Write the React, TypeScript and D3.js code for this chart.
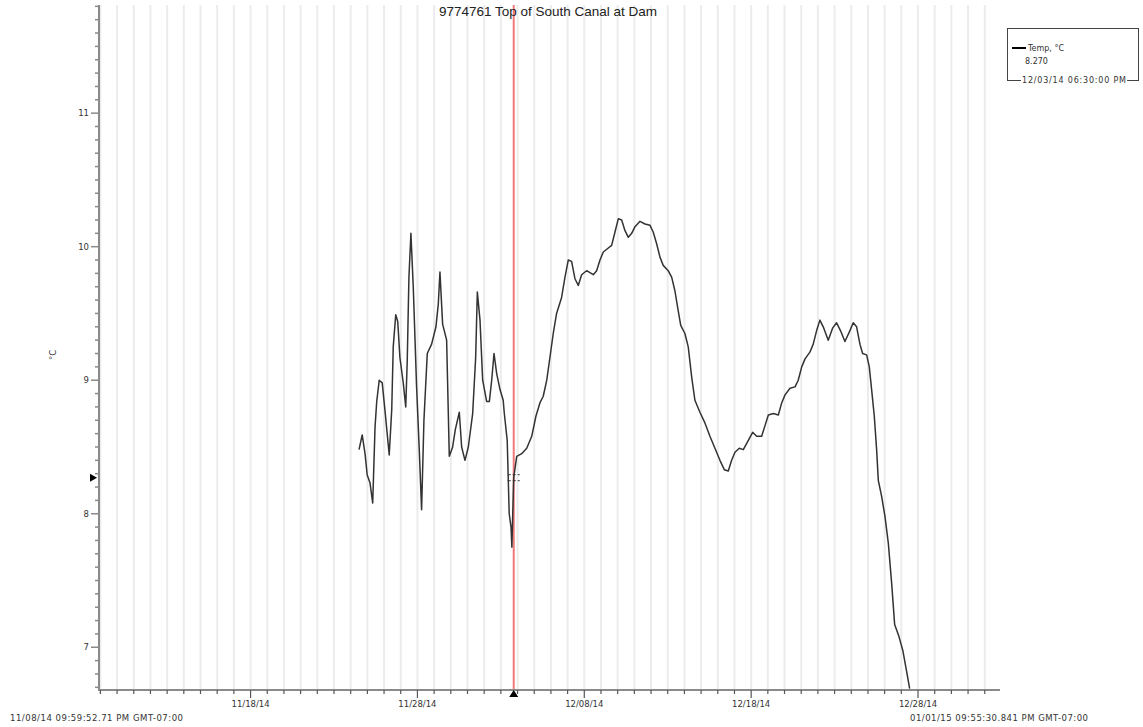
import React, { useEffect, useRef } from 'react';
import * as d3 from 'd3';

const TITLE = '9774761 Top of South Canal at Dam';
const SERIES_NAME = 'Temp, °C';
const Y_TITLE = '°C';
const START_LABEL = '11/08/14 09:59:52.71 PM GMT-07:00';
const END_LABEL = '01/01/15 09:55:30.841 PM GMT-07:00';
const CURSOR_LABEL = '12/03/14 06:30:00 PM';
const CURSOR_VALUE = 8.27;
const CURSOR_TIME = Date.UTC(2014, 11, 3, 18, 30);

const X_START = Date.UTC(2014, 10, 8, 21, 59, 52, 710);
const X_END = Date.UTC(2015, 0, 1, 21, 55, 30, 841);
const BASE_DAY = Date.UTC(2014, 10, 18);
const Y_MIN = 6.68;
const Y_MAX = 11.81;
const Y_LABELS = [7, 8, 9, 10, 11];
const MAJOR_TICKS = ['2014-11-18', '2014-11-28', '2014-12-08', '2014-12-18', '2014-12-28'];

// days since 11/18/14
const dayOffsets = [
  6.5, 6.69, 6.86, 6.99, 7.16, 7.32, 7.46, 7.56, 7.71, 7.89, 8.05, 8.31, 8.46, 8.55, 8.7, 8.82,
  8.95, 9.15, 9.3, 9.39, 9.49, 9.61, 9.75, 9.95, 10.11, 10.25, 10.39, 10.59, 10.85, 11.11, 11.25,
  11.35, 11.51, 11.75, 11.91, 12.11, 12.27, 12.51, 12.65, 12.85, 13.05, 13.31, 13.49, 13.59, 13.75,
  13.91, 14.15, 14.31, 14.45, 14.59, 14.75, 14.95, 15.14, 15.2, 15.38, 15.5, 15.61, 15.66, 15.77,
  15.95, 16.25, 16.55, 16.85, 17.1, 17.34, 17.54, 17.75, 17.94, 18.14, 18.34, 18.64, 18.84, 19.04,
  19.24, 19.44, 19.64, 19.84, 20.14, 20.54, 20.74, 20.94, 21.14, 21.44, 21.64, 21.84, 22.04, 22.24,
  22.44, 22.64, 22.84, 23.04, 23.34, 23.64, 23.94, 24.13, 24.34, 24.54, 24.73, 25.03, 25.24, 25.43,
  25.63, 25.78, 26.03, 26.23, 26.44, 26.63, 26.93, 27.23, 27.53, 27.83, 28.13, 28.39, 28.63, 28.83,
  29.03, 29.29, 29.53, 29.83, 30.09, 30.33, 30.63, 30.83, 31.03, 31.33, 31.63, 31.83, 32.03, 32.33,
  32.63, 32.82, 33.03, 33.23, 33.52, 33.72, 33.92, 34.12, 34.32, 34.62, 34.88, 35.12, 35.36, 35.62,
  35.88, 36.12, 36.32, 36.52, 36.68, 36.92, 37.08, 37.22, 37.38, 37.52, 37.62, 37.82, 38.02, 38.22,
  38.42, 38.6, 38.86, 39.1, 39.3, 39.5,
];

const temps = [
  8.48, 8.59, 8.45, 8.29, 8.23, 8.08, 8.65, 8.84, 9.0, 8.98, 8.78, 8.44, 8.78, 9.25, 9.49, 9.44,
  9.17, 8.98, 8.8, 9.15, 9.77, 10.1, 9.7, 8.95, 8.48, 8.03, 8.7, 9.2, 9.27, 9.4, 9.57,
  9.81, 9.42, 9.3, 8.43, 8.5, 8.63, 8.76, 8.5, 8.4, 8.5, 8.75, 9.17, 9.66, 9.45,
  9.0, 8.84, 8.84, 9.0, 9.2, 9.05, 8.93, 8.85, 8.76, 8.55, 8.0, 7.9, 7.75, 8.27,
  8.43, 8.45, 8.49, 8.58, 8.73, 8.83, 8.88, 9.0, 9.17, 9.35, 9.5, 9.62, 9.77, 9.9,
  9.89, 9.76, 9.71, 9.79, 9.82, 9.79, 9.82, 9.9, 9.96, 9.99, 10.01, 10.11, 10.21, 10.2,
  10.12, 10.07, 10.1, 10.15, 10.19, 10.17, 10.16, 10.11, 10.02, 9.92, 9.86, 9.82, 9.77, 9.67,
  9.52, 9.41, 9.35, 9.25, 9.02, 8.85, 8.76, 8.68, 8.58, 8.49, 8.4, 8.33, 8.32, 8.4,
  8.46, 8.49, 8.48, 8.55, 8.61, 8.58, 8.58, 8.66, 8.74, 8.75, 8.74, 8.83, 8.89, 8.94,
  8.95, 9.0, 9.1, 9.16, 9.21, 9.27, 9.37, 9.45, 9.4, 9.3, 9.39, 9.43, 9.37, 9.29,
  9.36, 9.43, 9.4, 9.27, 9.2, 9.19, 9.1, 8.93, 8.73, 8.48, 8.25, 8.13, 7.98, 7.78,
  7.48, 7.17, 7.08, 6.97, 6.83, 6.69,
];

const W = 1143;
const H = 727;
const PLOT = { left: 99, right: 1000, top: 5, bottom: 690 };
const FONT = 'Liberation Sans, Arial, sans-serif';
const SMALL_FONT = 'DejaVu Sans, Verdana, sans-serif';
const AXIS_COLOR = '#8a8a8a';

export default function App() {
  const svgRef = useRef<SVGSVGElement | null>(null);

  useEffect(() => {
    const svg = d3.select(svgRef.current);
    svg.selectAll('*').remove();

    const x = d3.scaleUtc().domain([X_START, X_END]).range([PLOT.left, PLOT.right]);
    const y = d3.scaleLinear().domain([Y_MIN, Y_MAX]).range([PLOT.bottom, PLOT.top]);

    const days = d3.utcDay.range(new Date(X_START), new Date(X_END));
    const majors = MAJOR_TICKS.map((d) => +new Date(d + 'T00:00:00Z'));

    // daily grid
    svg.append('g')
      .selectAll('line')
      .data(days)
      .enter()
      .append('line')
      .attr('x1', (d) => x(d))
      .attr('x2', (d) => x(d))
      .attr('y1', PLOT.top)
      .attr('y2', PLOT.bottom)
      .attr('stroke', '#ececec')
      .attr('stroke-width', 2);

    // cursor line
    svg.append('line')
      .attr('x1', x(CURSOR_TIME))
      .attr('x2', x(CURSOR_TIME))
      .attr('y1', PLOT.top)
      .attr('y2', PLOT.bottom)
      .attr('stroke', '#f07a7a')
      .attr('stroke-width', 2);

    svg.append('defs')
      .append('clipPath')
      .attr('id', 'plot-clip')
      .append('rect')
      .attr('x', PLOT.left)
      .attr('y', PLOT.top)
      .attr('width', PLOT.right - PLOT.left)
      .attr('height', PLOT.bottom - PLOT.top);

    const points = dayOffsets.map((d, i) => [BASE_DAY + d * 86400000, temps[i]] as [number, number]);
    const line = d3.line<[number, number]>()
      .x((d) => x(d[0]))
      .y((d) => y(d[1]));

    svg.append('path')
      .datum(points)
      .attr('clip-path', 'url(#plot-clip)')
      .attr('d', line)
      .attr('fill', 'none')
      .attr('stroke', '#333')
      .attr('stroke-width', 1.5)
      .attr('stroke-linejoin', 'round');

    // cursor marker at value
    const cx = x(CURSOR_TIME);
    const cy = y(CURSOR_VALUE);
    [-3, 3].forEach((off) => {
      svg.append('line')
        .attr('x1', cx - 6)
        .attr('x2', cx + 6)
        .attr('y1', cy + off)
        .attr('y2', cy + off)
        .attr('stroke', '#333')
        .attr('stroke-width', 1)
        .attr('stroke-dasharray', '3,2');
    });

    // y axis
    svg.append('line')
      .attr('x1', PLOT.left)
      .attr('x2', PLOT.left)
      .attr('y1', PLOT.top)
      .attr('y2', PLOT.bottom + 1)
      .attr('stroke', AXIS_COLOR)
      .attr('stroke-width', 2);

    const yTicks = d3.range(67, 119).map((i) => i / 10);
    svg.append('g')
      .selectAll('line')
      .data(yTicks)
      .enter()
      .append('line')
      .attr('x1', (d) => (Math.abs(d - Math.round(d)) < 1e-6 ? PLOT.left - 8 : PLOT.left - 4))
      .attr('x2', PLOT.left)
      .attr('y1', (d) => y(d))
      .attr('y2', (d) => y(d))
      .attr('stroke', AXIS_COLOR)
      .attr('stroke-width', 1.5);

    svg.append('g')
      .selectAll('text')
      .data(Y_LABELS)
      .enter()
      .append('text')
      .attr('x', PLOT.left - 10)
      .attr('y', (d) => y(d) + 3)
      .attr('text-anchor', 'end')
      .attr('font-family', SMALL_FONT)
      .attr('font-size', 8.5)
      .attr('fill', '#333')
      .text((d) => d);

    svg.append('text')
      .attr('transform', `translate(56, 355) rotate(-90)`)
      .attr('text-anchor', 'middle')
      .attr('font-family', SMALL_FONT)
      .attr('font-size', 8.5)
      .attr('fill', '#333')
      .text(Y_TITLE);

    // x axis
    svg.append('line')
      .attr('x1', PLOT.left - 1)
      .attr('x2', PLOT.right)
      .attr('y1', PLOT.bottom)
      .attr('y2', PLOT.bottom)
      .attr('stroke', AXIS_COLOR)
      .attr('stroke-width', 2);

    svg.append('g')
      .selectAll('line')
      .data(days)
      .enter()
      .append('line')
      .attr('x1', (d) => x(d))
      .attr('x2', (d) => x(d))
      .attr('y1', PLOT.bottom)
      .attr('y2', (d) => (majors.includes(+d) ? PLOT.bottom + 8 : PLOT.bottom + 4))
      .attr('stroke', '#555')
      .attr('stroke-width', 1.2);

    const fmt = d3.utcFormat('%m/%d/%y');
    svg.append('g')
      .selectAll('text')
      .data(majors)
      .enter()
      .append('text')
      .attr('x', (d) => x(d))
      .attr('y', PLOT.bottom + 17)
      .attr('text-anchor', 'middle')
      .attr('font-family', SMALL_FONT)
      .attr('font-size', 8.5)
      .attr('fill', '#333')
      .text((d) => fmt(new Date(d)));

    svg.append('text')
      .attr('x', 10)
      .attr('y', 721)
      .attr('font-family', SMALL_FONT)
      .attr('font-size', 8.5)
      .attr('fill', '#333')
      .attr('textLength', 173)
      .text(START_LABEL);

    svg.append('text')
      .attr('x', 910)
      .attr('y', 721)
      .attr('font-family', SMALL_FONT)
      .attr('font-size', 8.5)
      .attr('fill', '#333')
      .attr('textLength', 178)
      .text(END_LABEL);

    // cursor triangles
    svg.append('path')
      .attr('d', `M${cx},${PLOT.bottom} L${cx - 4.5},${PLOT.bottom + 7} L${cx + 4.5},${PLOT.bottom + 7} Z`)
      .attr('fill', '#000');
    svg.append('path')
      .attr('d', `M${PLOT.left - 2},${cy} L${PLOT.left - 9},${cy - 4} L${PLOT.left - 9},${cy + 4} Z`)
      .attr('fill', '#000');

    // title
    svg.append('text')
      .attr('x', 548)
      .attr('y', 16)
      .attr('text-anchor', 'middle')
      .attr('font-family', FONT)
      .attr('font-size', 13.5)
      .attr('fill', '#222')
      .text(TITLE);

    // legend
    const lg = svg.append('g');
    lg.append('rect')
      .attr('x', 1007.5)
      .attr('y', 28.5)
      .attr('width', 131)
      .attr('height', 52)
      .attr('fill', 'white')
      .attr('stroke', '#444')
      .attr('stroke-width', 1);
    lg.append('line')
      .attr('x1', 1012)
      .attr('x2', 1026)
      .attr('y1', 48)
      .attr('y2', 48)
      .attr('stroke', '#000')
      .attr('stroke-width', 2);
    lg.append('text')
      .attr('x', 1028)
      .attr('y', 51)
      .attr('font-family', SMALL_FONT)
      .attr('font-size', 8)
      .attr('fill', '#333')
      .text(SERIES_NAME);
    lg.append('text')
      .attr('x', 1025)
      .attr('y', 64)
      .attr('font-family', SMALL_FONT)
      .attr('font-size', 8)
      .attr('fill', '#333')
      .text(CURSOR_VALUE.toFixed(3));
    const cl = lg.append('text')
      .attr('x', 1022)
      .attr('y', 83)
      .attr('font-family', SMALL_FONT)
      .attr('font-size', 8)
      .attr('fill', '#333')
      .attr('textLength', 104)
      .text(CURSOR_LABEL);
    const bb = (cl.node() as SVGTextElement).getBBox();
    lg.insert('rect', 'text:last-child')
      .attr('x', bb.x - 1)
      .attr('y', 76)
      .attr('width', bb.width + 2)
      .attr('height', 9)
      .attr('fill', 'white');
  }, []);

  return (
    <div style={{ position: 'absolute', left: 0, top: 0 }}>
      <svg ref={svgRef} width={W} height={H} style={{ display: 'block', background: '#fff' }} />
    </div>
  );
}
